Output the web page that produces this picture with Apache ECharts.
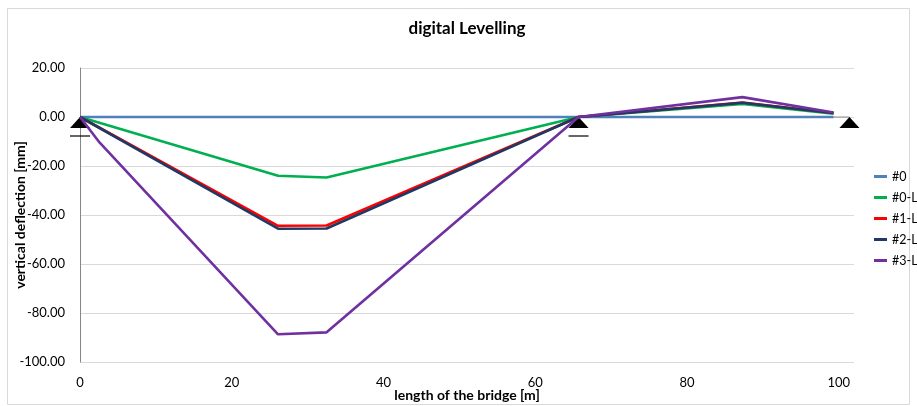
<!DOCTYPE html>
<html>
<head>
<meta charset="utf-8">
<script src="https://cdn.jsdelivr.net/npm/echarts@6/dist/echarts.min.js"></script>
<style>
  html, body { margin: 0; padding: 0; background: #fff; }
  #chart { width: 917px; height: 406px; }
</style>
</head>
<body>
<div id="chart"></div>
<script>
// Measured stations along the bridge [m]
const stations = [0, 26.1, 32.5, 65.7, 87.3, 99.3];
const stations3 = [0, 2.6, 26.1, 32.5, 65.7, 87.3, 99.3];

// Vertical deflection per load case [mm]
const defl0  = [0, 0, 0, 0, 0, 0];
const defl0L = [0, -24.0, -24.7, 0, 5.3, 1.3];
const defl1L = [0, -44.4, -44.3, 0, 5.9, 1.6];
const defl2L = [0, -45.6, -45.5, 0, 5.8, 1.6];
const defl3L = [0, -10.5, -88.7, -87.9, 0, 8.1, 1.8];

// Support positions [m]
const supportX = [0, 65.7, 101.4];
const supportY = [0, 0, 0];
const rollerX = [0, 65.7];
const rollerY = [0, 0];

const seriesNames = ['#0', '#0-L', '#1-L', '#2-L', '#3-L'];
const seriesColors = ['#4F81BD', '#00B050', '#FF0000', '#1F3864', '#7030A0'];

const xTicks = { min: 0, max: 102, interval: 20 };
const yTicks = { min: -100, max: 20, interval: 20 };

function pairs(xs, ys) { return xs.map((x, i) => [x, ys[i]]); }

const font = 'Lato, "Open Sans", sans-serif';

const lineData = [
  pairs(stations, defl0),
  pairs(stations, defl0L),
  pairs(stations, defl1L),
  pairs(stations, defl2L),
  pairs(stations3, defl3L)
];

const chart = echarts.init(document.getElementById('chart'), null, { renderer: 'canvas' });

const series = [
  {
    name: 'supports',
    type: 'line',
    data: pairs(supportX, supportY),
    symbol: 'triangle',
    symbolSize: [20, 11],
    symbolOffset: [0, 5.5],
    showAllSymbol: true,
    itemStyle: { color: '#000' },
    lineStyle: { color: '#8c8c8c', width: 1 },
    z: 1,
    silent: true
  },
  {
    name: 'rollers',
    type: 'scatter',
    data: pairs(rollerX, rollerY),
    symbol: 'rect',
    symbolSize: [20, 1.5],
    symbolOffset: [0, 19],
    itemStyle: { color: '#000' },
    z: 1,
    silent: true
  }
];

seriesNames.forEach((n, i) => {
  series.push({
    name: n,
    type: 'line',
    data: lineData[i],
    symbol: 'none',
    lineStyle: { color: seriesColors[i], width: 2.6 },
    itemStyle: { color: seriesColors[i] },
    z: 2 + i
  });
});

chart.setOption({
  animation: false,
  backgroundColor: '#fff',
  title: {
    text: 'digital Levelling',
    left: 462,
    top: 15,
    textAlign: 'center',
    textStyle: { fontFamily: font, fontSize: 17, fontWeight: 'bold', color: '#000' }
  },
  legend: {
    data: seriesNames,
    orient: 'vertical',
    left: 874,
    top: 170,
    padding: 0,
    itemWidth: 13,
    itemHeight: 3,
    itemGap: 8,
    icon: 'rect',
    textStyle: { fontFamily: font, fontSize: 12.5, color: '#000' }
  },
  grid: { left: 80, top: 68, right: 63, bottom: 44, containLabel: false, outerBoundsMode: 'none' },
  xAxis: {
    type: 'value',
    min: xTicks.min,
    max: xTicks.max,
    interval: xTicks.interval,
    name: 'length of the bridge [m]',
    nameLocation: 'middle',
    nameGap: 26,
    nameMoveOverlap: false,
    nameTextStyle: { fontFamily: font, fontSize: 14, fontWeight: 'bold', color: '#000' },
    axisLine: { show: false },
    axisTick: { show: false },
    axisLabel: {
      fontFamily: font, fontSize: 13, color: '#000', margin: 14,
      formatter: v => (v <= 100 ? String(v) : '')
    },
    splitLine: { show: false }
  },
  yAxis: {
    type: 'value',
    min: yTicks.min,
    max: yTicks.max,
    interval: yTicks.interval,
    name: 'vertical deflection [mm]',
    nameLocation: 'middle',
    nameGap: 53,
    nameRotate: 90,
    nameMoveOverlap: false,
    nameTextStyle: { fontFamily: font, fontSize: 14, fontWeight: 'bold', color: '#000' },
    axisLine: { show: true, lineStyle: { color: '#868686', width: 1 } },
    axisTick: { show: false },
    axisLabel: {
      fontFamily: font, fontSize: 13, color: '#000', margin: 15,
      formatter: v => v.toFixed(2)
    },
    splitLine: { show: true, lineStyle: { color: '#d9d9d9', width: 1 } }
  },
  graphic: [
    {
      type: 'rect',
      shape: { x: 7.5, y: 8.5, width: 902, height: 396 },
      style: { fill: 'none', stroke: '#d9d9d9', lineWidth: 1 },
      silent: true,
      z: -1
    }
  ],
  series: series
});
</script>
</body>
</html>
